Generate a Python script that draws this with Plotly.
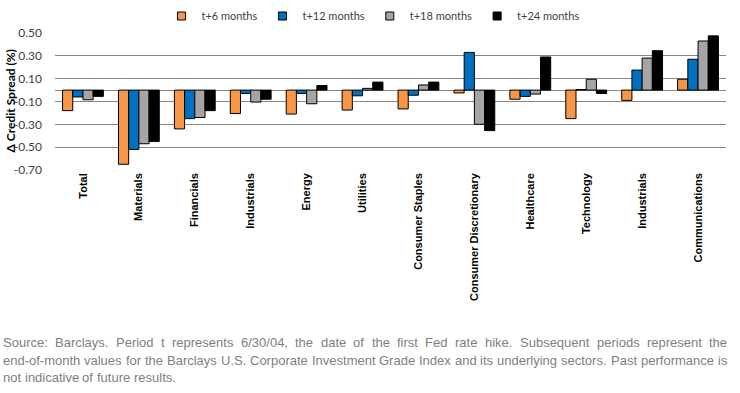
import plotly.graph_objects as go

categories = ["Total", "Materials", "Financials", "Industrials", "Energy", "Utilities",
              "Consumer Staples", "Consumer Discretionary", "Healthcare", "Technology",
              "Industrials", "Communications"]
series_names = ["t+6 months", "t+12 months", "t+18 months", "t+24 months"]
t6 = [-0.18, -0.65, -0.34, -0.205, -0.21, -0.175, -0.165, -0.025, -0.08, -0.25, -0.09, 0.095]
t12 = [-0.06, -0.52, -0.25, -0.03, -0.03, -0.05, -0.045, 0.33, -0.055, 0.005, 0.175, 0.27]
t18 = [-0.085, -0.47, -0.24, -0.105, -0.12, 0.015, 0.045, -0.30, -0.035, 0.095, 0.28, 0.43]
t24 = [-0.055, -0.45, -0.18, -0.08, 0.04, 0.07, 0.07, -0.355, 0.29, -0.03, 0.345, 0.475]
colors = ["#F79646", "#0070C0", "#A5A5A5", "#000000"]
y_tick_vals = [0.5, 0.3, 0.1, -0.1, -0.3, -0.5, -0.7]
y_tick_text = ["0.50", "0.30", "0.10", "-0.10", "-0.30", "-0.50", "-0.70"]
y_title = "Δ Credit Spread (%)"
footnote_lines = [
    "Source: Barclays. Period t represents 6/30/04, the date of the first Fed rate hike. Subsequent periods represent the",
    "end-of-month values for the Barclays U.S. Corporate Investment Grade Index and its underlying sectors. Past performance is",
    "not indicative of future results.",
]

W, H = 740, 393
ML, MR, MT, MB = 55, 14, 33, 223
PW, PH = W - ML - MR, H - MT - MB

x_pos = list(range(len(categories)))
fig = go.Figure()
for name, vals, col in zip(series_names, [t6, t12, t18, t24], colors):
    fig.add_trace(go.Bar(x=x_pos, y=vals, name=name, marker_color=col,
                         marker_line_color="#000000", marker_line_width=1,
                         showlegend=False, legendgroup=name))
# legend-only entries with small square swatches
for name, col in zip(series_names, colors):
    fig.add_trace(go.Scatter(x=[None], y=[None], mode="markers", name=name, legendgroup=name,
                             marker=dict(symbol="square", size=8, color=col,
                                         line=dict(color="#000000", width=1))))

# Arial / Liberation Sans advance widths (per 1000 em)
AW = {' ': 278, 'a': 556, 'b': 556, 'c': 500, 'd': 556, 'e': 556, 'f': 278, 'g': 556, 'h': 556,
      'i': 222, 'j': 222, 'k': 500, 'l': 222, 'm': 833, 'n': 556, 'o': 556, 'p': 556, 'q': 556,
      'r': 333, 's': 500, 't': 278, 'u': 556, 'v': 500, 'w': 722, 'x': 500, 'y': 500, 'z': 500,
      'S': 667, 'B': 667, 'P': 667, 'F': 611, 'U': 722, 'C': 722, 'I': 278, 'G': 778,
      ':': 278, '.': 278, ',': 278, '/': 278, '-': 333}
FS = 13

def wwidth(w):
    return sum(AW.get(ch, 556) for ch in w) * FS / 1000.0

annotations = []
line_y = [342, 360, 377]
left_px, right_px = 2, 726
for li, line in enumerate(footnote_lines):
    words = line.split(" ")
    widths = [wwidth(w) for w in words]
    if li < len(footnote_lines) - 1:
        gap = (right_px - left_px - sum(widths)) / (len(words) - 1)
    else:
        gap = AW[' '] * FS / 1000.0
    cur = left_px
    for w, wd in zip(words, widths):
        annotations.append(dict(
            text=w, xref="paper", yref="paper",
            x=(cur - ML) / PW, y=(MT + PH - line_y[li]) / PH,
            xanchor="left", yanchor="middle", showarrow=False, borderpad=0,
            font=dict(family="Liberation Sans, Arial", size=FS, color="#808080")))
        cur += wd + gap

# y-axis title as rotated text
annotations.append(dict(text="<b>" + y_title + "</b>", xref="paper", yref="paper",
                        x=(10 - ML) / PW, y=0.5, textangle=-90, showarrow=False,
                        xanchor="center", yanchor="middle",
                        font=dict(family="Lato, Open Sans, sans-serif", size=12, color="#000000")))

fig.update_layout(
    width=W, height=H,
    margin=dict(l=ML, r=MR, t=MT, b=MB, pad=0, autoexpand=False),
    paper_bgcolor="white", plot_bgcolor="white",
    barmode="group", bargap=0.27, bargroupgap=0,
    showlegend=True,
    legend=dict(orientation="h", x=(373 - ML) / PW, xanchor="center",
                y=1 + (MT - 16) / PH, yanchor="middle",
                font=dict(family="Lato, Open Sans, sans-serif", size=11, color="#404040"),
                itemwidth=30, traceorder="normal", itemclick=False),
    annotations=annotations,
    xaxis=dict(tickmode="array", tickvals=x_pos, ticktext=categories,
               range=[-0.5, len(categories) - 0.5], tickangle=-90,
               showgrid=False, zeroline=False, showline=False, ticks="",
               automargin=False,
               tickfont=dict(family="Liberation Sans, Arial", size=11, color="#000000",
                             weight="bold")),
    yaxis=dict(range=[-0.7, 0.5], tickmode="array", tickvals=y_tick_vals, ticktext=y_tick_text,
               showgrid=True, gridcolor="#868686", gridwidth=1,
               zeroline=True, zerolinecolor="#868686", zerolinewidth=1,
               showline=False, ticks="", ticklabelstandoff=12, automargin=False,
               tickfont=dict(family="Lato, Open Sans, sans-serif", size=12, color="#404040")),
)

fig.write_html("out.html")
